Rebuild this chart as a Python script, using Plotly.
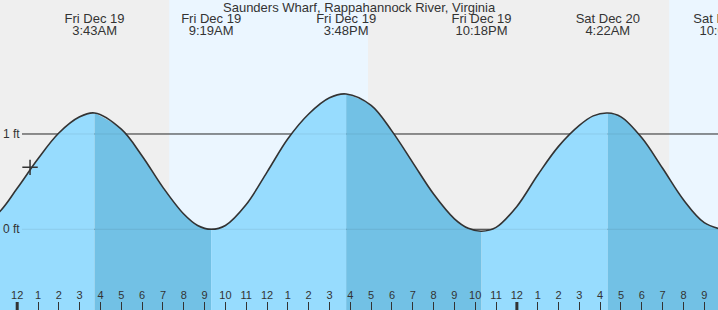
import plotly.graph_objects as go
import pandas as pd

TITLE = "Saunders Wharf, Rappahannock River, Virginia"

# Tide curve (feet)
curve_times = [
    "2025-12-18 21:06", "2025-12-18 23:00", "2025-12-19 00:00", "2025-12-19 01:00",
    "2025-12-19 02:00", "2025-12-19 03:00", "2025-12-19 03:43",
    "2025-12-19 05:00", "2025-12-19 06:00", "2025-12-19 07:00", "2025-12-19 08:00",
    "2025-12-19 08:40", "2025-12-19 09:19", "2025-12-19 10:00", "2025-12-19 11:00",
    "2025-12-19 12:00", "2025-12-19 13:00", "2025-12-19 14:00", "2025-12-19 15:00",
    "2025-12-19 15:48", "2025-12-19 17:00", "2025-12-19 18:00",
    "2025-12-19 19:00", "2025-12-19 20:00", "2025-12-19 21:00", "2025-12-19 21:40",
    "2025-12-19 22:18", "2025-12-19 23:00", "2025-12-20 00:00", "2025-12-20 01:00",
    "2025-12-20 02:00", "2025-12-20 03:00", "2025-12-20 03:40", "2025-12-20 04:22",
    "2025-12-20 05:00", "2025-12-20 06:00", "2025-12-20 07:00", "2025-12-20 08:00",
    "2025-12-20 09:00", "2025-12-20 10:01",
]
curve_ft = [
    -0.10, 0.15, 0.43, 0.74,
    1.01, 1.18, 1.22,
    1.05, 0.77, 0.44, 0.16,
    0.04, 0.00, 0.04, 0.26,
    0.60, 0.95, 1.21, 1.38,
    1.42, 1.30, 1.03,
    0.70, 0.37, 0.11, 0.01,
    -0.02, 0.02, 0.24, 0.57,
    0.87, 1.09, 1.19, 1.22,
    1.18, 0.96, 0.64, 0.31,
    0.07, -0.01,
]

# High / low tides
extreme_times = ["2025-12-18 21:06", "2025-12-19 03:43", "2025-12-19 09:19",
                 "2025-12-19 15:48", "2025-12-19 22:18", "2025-12-20 04:22",
                 "2025-12-20 10:01"]
extreme_day = ["Thu Dec 18", "Fri Dec 19", "Fri Dec 19", "Fri Dec 19",
               "Fri Dec 19", "Sat Dec 20", "Sat Dec 20"]
extreme_clock = ["9:06PM", "3:43AM", "9:19AM", "3:48PM", "10:18PM", "4:22AM", "10:01AM"]

# Daylight periods
day_start = ["2025-12-19 07:18", "2025-12-20 07:19"]
day_end = ["2025-12-19 16:51", "2025-12-20 16:52"]

# Hour ticks
tick_labels = ["11", "12", "1", "2", "3", "4", "5", "6", "7", "8", "9", "10", "11",
               "12", "1", "2", "3", "4", "5", "6", "7", "8", "9", "10", "11",
               "12", "1", "2", "3", "4", "5", "6", "7", "8", "9"]
midnights = ["2025-12-19 00:00", "2025-12-20 00:00"]

# Current time marker
now_time = "2025-12-19 00:37"
now_ft = 0.65

grid_levels = [0, 1]
grid_labels = ["0 ft", "1 ft"]

X_RANGE = ["2025-12-18 23:10:26", "2025-12-20 09:39:36"]
Y_RANGE = [-0.847, 2.406]
W, H = 718, 310

NIGHT = "#efefef"
DAY = "#ebf6ff"
RISE = "#97dcfe"
FALL = "#72c1e5"
INK = "#333333"
FONT = "Liberation Sans, Arial, sans-serif"

tick_times = pd.date_range("2025-12-18 23:00", periods=len(tick_labels), freq="h")
ct = pd.to_datetime(pd.Series(curve_times))
cv = pd.Series(curve_ft)
et = pd.to_datetime(pd.Series(extreme_times))
x_start = pd.Timestamp(X_RANGE[0])

fig = go.Figure()

# Filled segments (rising light, falling dark)
base = Y_RANGE[0] - 1
for i in range(len(extreme_times) - 1):
    t0, t1 = et[i], et[i + 1]
    m = (ct >= t0) & (ct <= t1)
    xs = ct[m].tolist()
    ys = cv[m].tolist()
    rising = ys[-1] > ys[0]
    fig.add_trace(go.Scatter(x=xs, y=[base] * len(xs), mode="lines",
                             line=dict(width=0, shape="spline"), hoverinfo="skip"))
    fig.add_trace(go.Scatter(x=xs, y=ys, mode="lines", fill="tonexty",
                             fillcolor=RISE if rising else FALL,
                             line=dict(width=0, shape="spline"), hoverinfo="skip"))

# Outline curve
fig.add_trace(go.Scatter(x=ct, y=cv, mode="lines",
                         line=dict(color=INK, width=1.6, shape="spline"),
                         hoverinfo="skip"))

# Current time marker
fig.add_trace(go.Scatter(x=[now_time], y=[now_ft], mode="markers",
                         marker=dict(symbol="cross-thin", size=11,
                                     line=dict(color=INK, width=1.5)),
                         hoverinfo="skip"))

# Top labels for high/low tides (those after the left edge)
vis = [i for i in range(len(extreme_times)) if et[i] >= x_start]
lab_x = [extreme_times[i] for i in vis]
span = Y_RANGE[1] - Y_RANGE[0]
y_line1 = Y_RANGE[1] - 20 / H * span
y_line2 = Y_RANGE[1] - 31.5 / H * span
fig.add_trace(go.Scatter(x=lab_x, y=[y_line1] * len(vis), mode="text",
                         text=[extreme_day[i] for i in vis], textposition="middle center",
                         textfont=dict(family=FONT, size=13, color=INK), hoverinfo="skip"))
fig.add_trace(go.Scatter(x=lab_x, y=[y_line2] * len(vis), mode="text",
                         text=[extreme_clock[i] for i in vis], textposition="middle center",
                         textfont=dict(family=FONT, size=13, color=INK), hoverinfo="skip"))

shapes = []
for s, e in zip(day_start, day_end):
    shapes.append(dict(type="rect", xref="x", yref="paper", x0=s, x1=e, y0=0, y1=1,
                       fillcolor=DAY, line=dict(width=0), layer="below"))
for lv in grid_levels:
    shapes.append(dict(type="line", xref="paper", yref="y", x0=22 / W, x1=1, y0=lv, y1=lv,
                       line=dict(color=INK, width=1), layer="below"))
    shapes.append(dict(type="line", xref="paper", yref="y", x0=22 / W, x1=1, y0=lv, y1=lv,
                       line=dict(color="rgba(0,0,0,0.08)", width=1), layer="above"))
for mdn in midnights:
    shapes.append(dict(type="line", xref="x", yref="paper", x0=mdn, x1=mdn,
                       y0=0, y1=8 / H, line=dict(color=INK, width=3), layer="above"))

annotations = [dict(text=TITLE, xref="paper", yref="paper", x=0.5, y=1,
                    xanchor="center", yanchor="top", showarrow=False, yshift=2,
                    font=dict(family=FONT, size=13, color=INK))]
for lv, lab in zip(grid_levels, grid_labels):
    annotations.append(dict(text=lab, xref="paper", yref="y", x=0, y=lv, xanchor="left",
                            yanchor="middle", xshift=1, showarrow=False,
                            font=dict(family=FONT, size=12, color=INK)))

fig.update_layout(
    width=W, height=H, autosize=False,
    margin=dict(l=0, r=0, t=0, b=0, pad=0),
    paper_bgcolor=NIGHT, plot_bgcolor=NIGHT,
    showlegend=False,
    shapes=shapes, annotations=annotations,
    xaxis=dict(type="date", range=X_RANGE, tickvals=tick_times, ticktext=tick_labels,
               ticks="inside", ticklen=8, tickwidth=1, tickcolor=INK,
               ticklabelposition="inside", tickfont=dict(family=FONT, size=11, color=INK),
               showgrid=False, zeroline=False, showline=False, fixedrange=True),
    yaxis=dict(range=Y_RANGE, visible=False, fixedrange=True),
)

fig.write_html("out.html", config={"displayModeBar": False})
